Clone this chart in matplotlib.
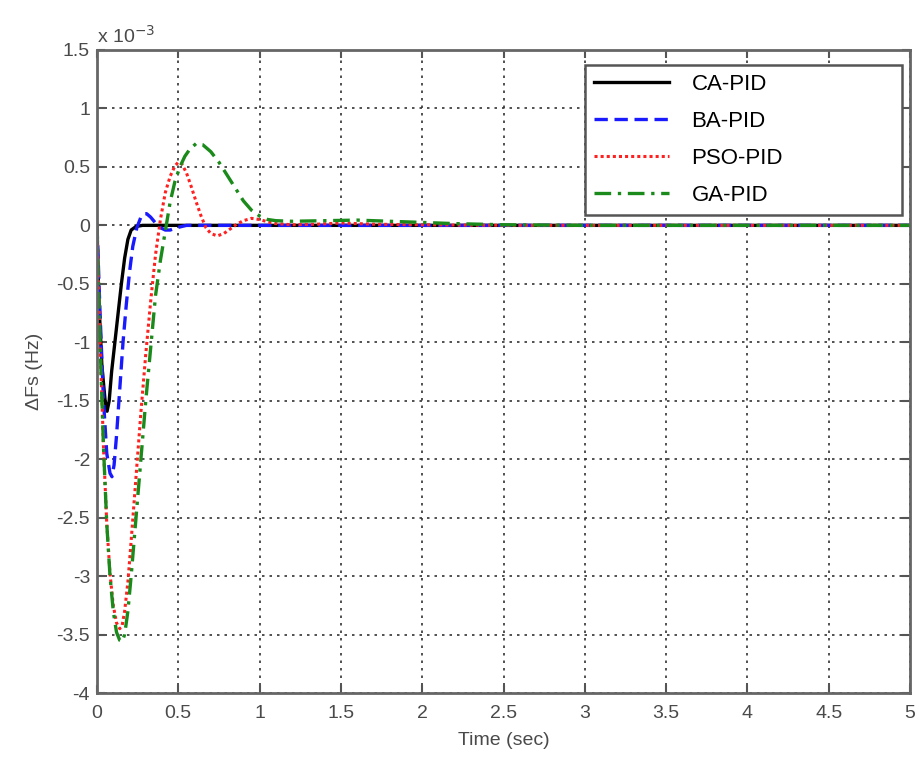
import matplotlib.pyplot as plt
import numpy as np

plt.rcParams['font.family'] = ['Liberation Sans', 'DejaVu Sans']

# CA-PID response (x 1e-3 Hz)
t_ca = [0, 0.01, 0.03, 0.05, 0.062, 0.075, 0.09, 0.11, 0.13, 0.15, 0.17, 0.19, 0.21, 0.24, 0.28, 0.35, 5]
y_ca = [0, -0.6, -1.2, -1.5, -1.59, -1.5, -1.25, -1.0, -0.75, -0.5, -0.28, -0.12, -0.04, -0.01, 0, 0, 0]

# BA-PID response
t_ba = [0, 0.02, 0.04, 0.06, 0.08, 0.092, 0.105, 0.12, 0.14, 0.16, 0.18, 0.2, 0.22, 0.245, 0.27,
        0.29, 0.305, 0.33, 0.36, 0.39, 0.42, 0.45, 0.49, 0.55, 0.65, 5]
y_ba = [0, -0.8, -1.5, -1.95, -2.12, -2.15, -2.05, -1.8, -1.4, -1.0, -0.68, -0.4, -0.18, -0.02, 0.07,
        0.1, 0.1, 0.07, 0.02, -0.02, -0.04, -0.04, -0.02, 0, 0, 0]

# PSO-PID response
t_pso = [0, 0.02, 0.04, 0.06, 0.08, 0.1, 0.12, 0.14, 0.155, 0.17, 0.19, 0.21, 0.24, 0.27, 0.3, 0.33,
         0.36, 0.39, 0.42, 0.45, 0.48, 0.5, 0.52, 0.55, 0.58, 0.61, 0.64, 0.67, 0.7, 0.74, 0.78, 0.82,
         0.86, 0.9, 0.95, 1.0, 1.05, 1.1, 1.2, 1.35, 1.5, 1.7, 2.0, 2.3, 2.6, 5]
y_pso = [0, -1.05, -1.9, -2.55, -2.98, -3.25, -3.4, -3.45, -3.42, -3.3, -3.05, -2.7, -2.15, -1.6, -1.1, -0.65,
         -0.25, 0.05, 0.28, 0.42, 0.51, 0.54, 0.53, 0.45, 0.33, 0.2, 0.08, -0.02, -0.07, -0.09, -0.07, -0.03,
         0.01, 0.04, 0.06, 0.05, 0.03, 0.015, 0.005, 0.01, 0.02, 0.01, 0.005, 0.002, 0, 0]

# GA-PID response
t_ga = [0, 0.02, 0.04, 0.06, 0.08, 0.1, 0.12, 0.14, 0.155, 0.17, 0.19, 0.21, 0.24, 0.27, 0.3, 0.33,
        0.36, 0.39, 0.42, 0.45, 0.48, 0.51, 0.54, 0.57, 0.61, 0.65, 0.7, 0.75, 0.8, 0.85, 0.9, 0.95,
        1.0, 1.05, 1.1, 1.2, 1.4, 1.6, 1.8, 2.0, 2.2, 2.5, 3.0, 5]
y_ga = [0, -1.05, -1.9, -2.55, -3.0, -3.3, -3.48, -3.55, -3.56, -3.5, -3.3, -3.0, -2.5, -2.0, -1.5, -1.05,
        -0.6, -0.3, -0.05, 0.2, 0.38, 0.5, 0.59, 0.65, 0.7, 0.69, 0.63, 0.54, 0.43, 0.32, 0.21, 0.13,
        0.08, 0.05, 0.04, 0.035, 0.04, 0.045, 0.035, 0.025, 0.015, 0.005, 0, 0]

xticks = np.arange(0, 5.01, 0.5)
yticks = np.arange(-4, 1.51, 0.5)
xtick_labels = ['0', '0.5', '1', '1.5', '2', '2.5', '3', '3.5', '4', '4.5', '5']
ytick_labels = ['-4', '-3.5', '-3', '-2.5', '-2', '-1.5', '-1', '-0.5', '0', '0.5', '1', '1.5']

fig = plt.figure(figsize=(9.2, 7.6), dpi=100)
ax = fig.add_axes([97 / 920, 1 - 693 / 760, (910 - 97) / 920, (693 - 50) / 760])

ax.plot(t_ca, y_ca, color='black', lw=2.4, label='CA-PID')
ax.plot(t_ba, y_ba, color='#1a1aff', lw=2.4, ls=(0, (4, 2)), label='BA-PID')
ax.plot(t_pso, y_pso, color='#ff2020', lw=2.2, ls=(0, (1, 1)), label='PSO-PID')
ax.plot(t_ga, y_ga, color='#1a8a1a', lw=2.4, ls=(0, (5, 2, 1, 2)), label='GA-PID')

ax.set_xlim(0, 5)
ax.set_ylim(-4, 1.5)
ax.set_xticks(xticks)
ax.set_xticklabels(xtick_labels)
ax.set_yticks(yticks)
ax.set_yticklabels(ytick_labels)
ax.grid(True, color='#333333', ls=(0, (1.5, 3)), lw=1.2)
ax.tick_params(direction='in', length=6, width=1.5, colors='#555555', labelsize=14,
               labelcolor='#4a4a4a', top=True, right=True, pad=5)
ax.tick_params(axis='x', pad=9)
for s in ax.spines.values():
    s.set_color('#666666')
    s.set_linewidth(2)

ax.set_xlabel('Time (sec)', fontsize=14, color='#4a4a4a', labelpad=7)
ax.set_ylabel('ΔFs (Hz)', fontsize=14, color='#4a4a4a', labelpad=10)
ax.text(0.0, 1.005, 'x 10$^{-3}$', transform=ax.transAxes, fontsize=14, color='#4a4a4a',
        ha='left', va='bottom')

leg = ax.legend(loc='upper left', fontsize=16, handlelength=3.4, handletextpad=1.0,
                borderpad=0.4, labelspacing=0.72, fancybox=False, framealpha=1,
                bbox_to_anchor=(0.600, 0.0, 0.390, 0.977), mode='expand', borderaxespad=0)
leg.get_frame().set_edgecolor('#555555')
leg.get_frame().set_linewidth(1.8)

fig.savefig('out.png', dpi=100)
